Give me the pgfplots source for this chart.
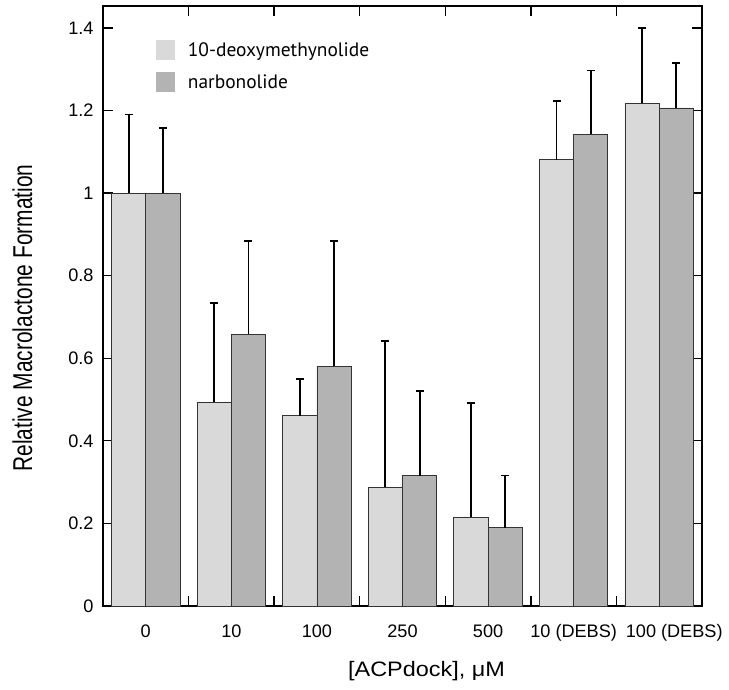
\documentclass[border=0pt]{standalone}
\usepackage{fontspec}
\setmainfont{Liberation Sans}
\newfontfamily\legfont{PT Sans}
\usepackage{pgfplots}
\usepackage{pgfplotstable}
\pgfplotsset{compat=1.18}
\definecolor{lightbar}{HTML}{D9D9D9}
\definecolor{darkbar}{HTML}{B3B3B3}
\pgfplotstableread{
xa b1 e1 xb b2 e2
-0.2 1.000 0.190 0.2 1.000 0.157
0.8 0.493 0.240 1.2 0.658 0.226
1.8 0.461 0.088 2.2 0.581 0.303
2.8 0.287 0.355 3.2 0.316 0.205
3.8 0.215 0.277 4.2 0.190 0.126
4.8 1.081 0.142 5.2 1.142 0.155
5.8 1.218 0.182 6.2 1.206 0.109
}\datatab
\begin{document}
\begin{tikzpicture}
\begin{axis}[
  name=ax,
  scale only axis,
  width=599bp, height=600bp,
  xmin=-0.5, xmax=6.5,
  ymin=0, ymax=1.453,
  axis line style={line width=1.3bp, black},
  every tick/.style={black, line width=1.3bp},
  major tick length=10bp,
  tick align=inside,
  xtick={0.5,1.5,...,5.5},
  xticklabels={},
  extra x ticks={0,1,2,3,4,5,6},
  extra x tick labels={0,10,100,250,500,10 (DEBS),\rule{30bp}{0pt}100 (DEBS)},
  extra x tick style={major tick length=0pt},
  ytick={0,0.2,...,1.4},
  yticklabel style={/pgf/number format/fixed},
  /pgf/number format/assume math mode=true,
  tick label style={font=\fontsize{18.2}{22}\selectfont},
  xticklabel style={yshift=-15bp},
  yticklabel style={xshift=-6bp},
  xlabel={\scalebox{1.12}[1]{[ACPdock], μM}},
  ylabel={\scalebox{1}[1.3]{Relative Macrolactone Formation}},
  label style={font=\fontsize{21}{25}\selectfont},
  xlabel style={yshift=-13bp, xshift=24bp},
  ylabel style={yshift=29bp, xshift=-12bp},
  legend style={at={(rel axis cs:0.088,0.943)}, anchor=north west, draw=none, fill=none,
    inner sep=0pt, font=\legfont\fontsize{19.5}{23}\selectfont, row sep=12bp,
    cells={anchor=west}},
  legend image code/.code={\path[draw=none,fill=none] (0bp,-10bp) rectangle (30bp,10bp);
    \fill[#1,draw=none] (0bp,-10bp) rectangle (19bp,10bp);},
  legend cell align=left,
  error bars/error bar style={line width=1.8bp, black},
  error bars/error mark options={rotate=90, mark size=4bp, line width=1.8bp, black},
]
\addplot[ybar, bar width=0.4, bar shift=0, fill=lightbar, draw=black!80, line width=0.8bp,
  error bars/.cd, y dir=plus, y explicit]
  table[x=xa, y=b1, y error=e1] {\datatab};
\addlegendentry{10-deoxymethynolide}
\addplot[ybar, bar width=0.4, bar shift=0, fill=darkbar, draw=black!80, line width=0.8bp,
  error bars/.cd, y dir=plus, y explicit]
  table[x=xb, y=b2, y error=e2] {\datatab};
\addlegendentry{narbonolide}
\end{axis}
\pgfresetboundingbox
\path ([shift={(-103bp,-84bp)}]ax.south west) rectangle ([shift={(27bp,6bp)}]ax.north east);
\end{tikzpicture}
\end{document}
